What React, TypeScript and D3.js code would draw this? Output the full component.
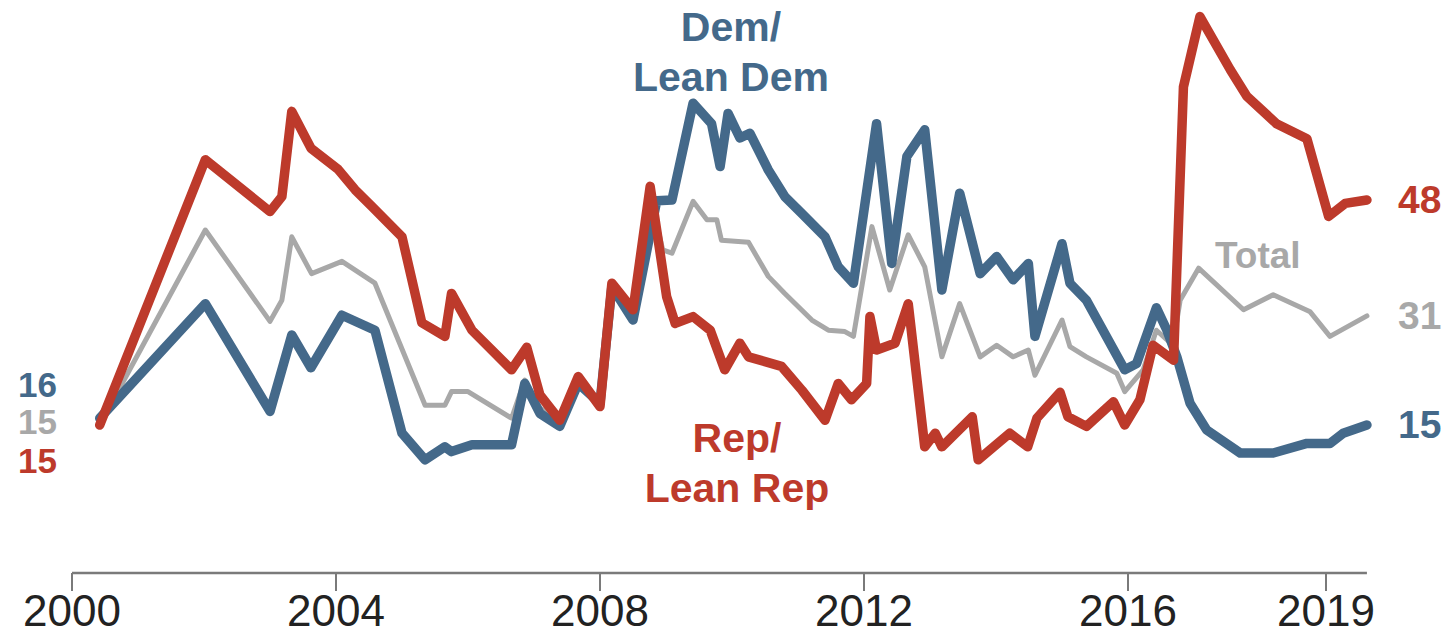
import React from 'react';
import * as d3 from 'd3';

// [decimal year, percent]
const repSeries: [number, number][] = [
  [2000.42, 15], [2002.02, 53.9], [2003.0, 46.3], [2003.18, 48.5], [2003.33, 61.0], [2003.62, 55.6],
  [2004.03, 52.5], [2004.29, 49.5], [2004.55, 47.0], [2005.0, 42.6], [2005.3, 30.0], [2005.65, 28.0],
  [2005.75, 34.3], [2006.06, 28.9], [2006.66, 23.1], [2006.89, 26.4], [2007.09, 19.4], [2007.39, 15.7],
  [2007.67, 22.1], [2008.0, 17.7], [2008.18, 35.8], [2008.5, 31.9], [2008.76, 50.0], [2009.01, 33.8],
  [2009.14, 29.9], [2009.41, 30.9], [2009.67, 28.9], [2009.89, 23.1], [2010.12, 27.0], [2010.25, 25.0],
  [2010.75, 23.6], [2011.06, 20.1], [2011.41, 15.7], [2011.61, 21.1], [2011.81, 18.7], [2012.04, 21.1],
  [2012.09, 30.9], [2012.19, 26.0], [2012.47, 27.0], [2012.67, 32.8], [2012.92, 11.8], [2013.08, 13.8],
  [2013.18, 11.8], [2013.64, 16.2], [2013.73, 9.9], [2014.21, 13.8], [2014.48, 11.8], [2014.62, 16.0],
  [2014.97, 19.8], [2015.09, 16.2], [2015.37, 14.8], [2015.78, 18.4], [2015.95, 15.0], [2016.18, 18.7],
  [2016.38, 26.7], [2016.69, 24.5], [2016.84, 64.6], [2017.09, 74.9], [2017.55, 67.1], [2017.8, 63.2],
  [2018.25, 59.2], [2018.71, 57.0], [2019.04, 45.6], [2019.29, 47.5], [2019.62, 48],
];

const totalSeries: [number, number][] = [
  [2000.42, 15], [2002.02, 43.6], [2003.0, 30.2], [2003.18, 33.3], [2003.33, 42.6], [2003.63, 37.2],
  [2004.09, 39.0], [2004.59, 35.8], [2005.35, 17.9], [2005.65, 17.9], [2005.75, 19.9], [2006.0, 19.9],
  [2006.66, 16.0], [2006.86, 21.6], [2007.09, 17.5], [2007.39, 15.7], [2007.67, 21.9], [2008.0, 17.9],
  [2008.18, 35.5], [2008.5, 30.7], [2008.76, 48.7], [2008.95, 40.7], [2009.09, 40.2], [2009.41, 47.8],
  [2009.62, 45.1], [2009.77, 45.1], [2009.84, 42.1], [2010.25, 41.8], [2010.55, 36.8], [2010.8, 34.3],
  [2011.21, 30.4], [2011.46, 28.9], [2011.71, 28.7], [2011.84, 28.0], [2012.12, 44.1], [2012.39, 34.8],
  [2012.67, 42.9], [2012.92, 38.2], [2013.18, 25.0], [2013.45, 32.8], [2013.76, 25.0], [2014.01, 26.7],
  [2014.26, 25.0], [2014.49, 26.0], [2014.59, 22.3], [2015.0, 30.4], [2015.12, 26.5], [2015.37, 25.0],
  [2015.83, 22.6], [2015.95, 19.9], [2016.23, 23.1], [2016.43, 28.9], [2016.68, 26.7], [2016.79, 33.3],
  [2017.07, 38.0], [2017.75, 31.9], [2018.2, 34.1], [2018.76, 31.6], [2019.06, 28.0], [2019.62, 31],
];

const demSeries: [number, number][] = [
  [2000.42, 16], [2002.02, 32.8], [2003.0, 17.0], [2003.33, 28.2], [2003.62, 23.4], [2004.09, 31.1],
  [2004.59, 28.9], [2005.0, 13.8], [2005.35, 9.9], [2005.65, 11.8], [2005.75, 11.1], [2006.06, 12.1],
  [2006.66, 12.1], [2006.86, 21.1], [2007.09, 16.7], [2007.39, 14.8], [2007.67, 21.1], [2008.0, 18.2],
  [2008.18, 35.3], [2008.5, 30.4], [2008.86, 47.9], [2009.09, 48.0], [2009.41, 62.2], [2009.69, 59.2],
  [2009.82, 52.9], [2009.94, 60.7], [2010.12, 57.1], [2010.27, 57.8], [2010.55, 52.4], [2010.8, 48.5],
  [2011.06, 46.0], [2011.41, 42.6], [2011.61, 38.2], [2011.84, 35.8], [2012.19, 59.2], [2012.42, 38.7],
  [2012.65, 54.4], [2012.92, 58.3], [2013.18, 34.8], [2013.45, 49.0], [2013.76, 37.2], [2014.01, 39.7],
  [2014.26, 36.3], [2014.49, 38.7], [2014.59, 28.0], [2015.0, 41.6], [2015.12, 35.8], [2015.37, 33.3],
  [2015.95, 23.1], [2016.13, 24.0], [2016.43, 32.2], [2016.59, 28.9], [2016.74, 25.0], [2016.94, 18.2],
  [2017.19, 14.3], [2017.7, 10.9], [2018.2, 10.9], [2018.71, 12.3], [2019.06, 12.3], [2019.26, 13.8],
  [2019.62, 15],
];

const tickYears = [2000, 2004, 2008, 2012, 2016, 2019];
const demLabelLines = ['Dem/', 'Lean Dem'];
const repLabelLines = ['Rep/', 'Lean Rep'];
const totalLabel = 'Total';

const RED = '#bd3a2b';
const BLUE = '#44698a';
const GRAY = '#a8a8a8';
const FONT = "'Liberation Sans', Arial, sans-serif";

const W = 1453;
const H = 637;

export default function App() {
  const x = d3.scaleLinear().domain([2000, 2020]).range([72, 1392]);
  const y = d3.scaleLinear().domain([0, 75]).range([527.3, 15.9]);
  const line = d3
    .line<[number, number]>()
    .x((d) => x(d[0]))
    .y((d) => y(d[1]))
    .curve(d3.curveLinear);

  const axisY = 573;
  const xEnd = x(2019.62);
  const first = (s: [number, number][]) => s[0];
  const last = (s: [number, number][]) => s[s.length - 1];

  return (
    <svg
      width={W}
      height={H}
      style={{ position: 'absolute', left: 0, top: 0, background: '#fff' }}
      fontFamily={FONT}
    >
      <rect x={0} y={0} width={W} height={H} fill="#fff" />
      {/* axis */}
      <line x1={x(2000)} x2={xEnd} y1={axisY} y2={axisY} stroke="#7a7a7a" strokeWidth={2.5} />
      {tickYears.map((t) => (
        <g key={t}>
          <line x1={x(t)} x2={x(t)} y1={axisY} y2={axisY + 18} stroke="#7a7a7a" strokeWidth={2} />
          <text x={x(t)} y={626} textAnchor="middle" fontSize={44} fill="#222">
            {t}
          </text>
        </g>
      ))}

      {/* lines */}
      <path d={line(totalSeries) || ''} fill="none" stroke={GRAY} strokeWidth={5} strokeLinejoin="round" strokeLinecap="round" />
      <path d={line(demSeries) || ''} fill="none" stroke={BLUE} strokeWidth={9.5} strokeLinejoin="round" strokeLinecap="round" />
      <path d={line(repSeries) || ''} fill="none" stroke={RED} strokeWidth={9.5} strokeLinejoin="round" strokeLinecap="round" />

      {/* series labels */}
      {demLabelLines.map((t, i) => (
        <text key={t} x={731} y={41 + i * 50} textAnchor="middle" fontSize={41} fontWeight="bold" fill={BLUE}>
          {t}
        </text>
      ))}
      {repLabelLines.map((t, i) => (
        <text key={t} x={737} y={452 + i * 50} textAnchor="middle" fontSize={41} fontWeight="bold" fill={RED}>
          {t}
        </text>
      ))}
      <text x={1215} y={268} fontSize={37} fontWeight="bold" fill={GRAY}>
        {totalLabel}
      </text>

      {/* start labels */}
      <text x={18} y={y(first(demSeries)[1]) - 21} fontSize={35} fontWeight="bold" fill={BLUE}>
        {first(demSeries)[1]}
      </text>
      <text x={18} y={y(first(totalSeries)[1]) + 9} fontSize={35} fontWeight="bold" fill={GRAY}>
        {first(totalSeries)[1]}
      </text>
      <text x={18} y={y(first(repSeries)[1]) + 48} fontSize={35} fontWeight="bold" fill={RED}>
        {first(repSeries)[1]}
      </text>

      {/* end labels */}
      <text x={1398} y={y(last(repSeries)[1]) + 13} fontSize={39} fontWeight="bold" fill={RED}>
        {last(repSeries)[1]}
      </text>
      <text x={1398} y={y(last(totalSeries)[1]) + 13} fontSize={39} fontWeight="bold" fill={GRAY}>
        {last(totalSeries)[1]}
      </text>
      <text x={1398} y={y(last(demSeries)[1]) + 13} fontSize={39} fontWeight="bold" fill={BLUE}>
        {last(demSeries)[1]}
      </text>
    </svg>
  );
}
